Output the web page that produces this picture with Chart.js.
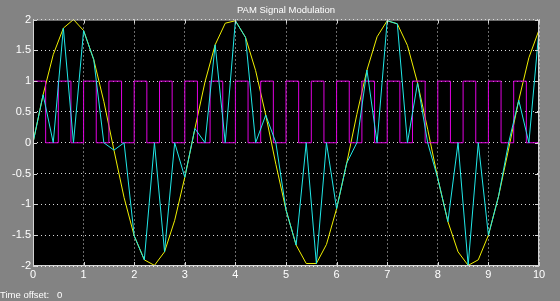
<!DOCTYPE html>
<html>
<head>
<meta charset="utf-8">
<script src="https://cdn.jsdelivr.net/npm/chart.js@4.4.1/dist/chart.umd.min.js"></script>
<style>
  html, body { margin: 0; padding: 0; background: #838383; }
  #wrap { position: relative; width: 560px; height: 301px; }
</style>
</head>
<body>
<div id="wrap"><canvas id="scopeChart"></canvas></div>
<script>
// solver samples (s) and the three scope channels
const sampleTimes = [0, 0.2, 0.4, 0.6, 0.8, 1, 1.2, 1.4, 1.6, 1.8, 2, 2.2, 2.4, 2.6, 2.8, 3, 3.2, 3.4, 3.6, 3.8,
  4, 4.2, 4.4, 4.6, 4.8, 5, 5.2, 5.4, 5.6, 5.8, 6, 6.2, 6.4, 6.6, 6.8, 7, 7.2, 7.4, 7.6, 7.8,
  8, 8.2, 8.4, 8.6, 8.8, 9, 9.2, 9.4, 9.6, 9.8, 10];
const sineValues = [0, 0.78, 1.43, 1.86, 2.00, 1.82, 1.35, 0.67, -0.12, -0.89, -1.51, -1.90, -1.99, -1.77, -1.26, -0.56, 0.23, 0.99, 1.59, 1.94,
  1.98, 1.71, 1.17, 0.45, -0.35, -1.09, -1.66, -1.96, -1.96, -1.65, -1.07, -0.33, 0.46, 1.18, 1.72, 1.98, 1.93, 1.58, 0.97, 0.22,
  -0.58, -1.28, -1.77, -1.99, -1.90, -1.50, -0.87, -0.10, 0.69, 1.38, 1.83];
const pamValues = [0, 0.78, 0, 1.86, 0, 1.82, 1.35, 0, -0.12, 0, -1.51, -1.90, 0, -1.77, 0, -0.56, 0.23, 0, 1.59, 0,
  1.98, 1.71, 0, 0.45, 0, -1.09, -1.66, 0, -1.96, 0, -1.07, -0.33, 0, 1.18, 0, 1.98, 1.93, 0, 0.97, 0,
  -0.58, -1.28, 0, -1.99, 0, -1.50, -0.87, 0, 0.69, 0, 1.83];

// pulse train edges
const pulseTimes = [0, 0.25, 0.5, 0.75, 1, 1.25, 1.5, 1.75, 2, 2.25, 2.5, 2.75, 3, 3.25, 3.5, 3.75, 4, 4.25, 4.5, 4.75,
  5, 5.25, 5.5, 5.75, 6, 6.25, 6.5, 6.75, 7, 7.25, 7.5, 7.75, 8, 8.25, 8.5, 8.75, 9, 9.25, 9.5, 9.75, 10];
const pulseLevels = [1, 0, 1, 0, 1, 0, 1, 0, 1, 0, 1, 0, 1, 0, 1, 0, 1, 0, 1, 0,
  1, 0, 1, 0, 1, 0, 1, 0, 1, 0, 1, 0, 1, 0, 1, 0, 1, 0, 1, 0, 1];

const xTicks = [0, 1, 2, 3, 4, 5, 6, 7, 8, 9, 10];
const xTickLabels = ['0', '1', '2', '3', '4', '5', '6', '7', '8', '9', '10'];
const yTicks = [2, 1.5, 1, 0.5, 0, -0.5, -1, -1.5, -2];
const yTickLabels = ['2', '1.5', '1', '0.5', '0', '-0.5', '-1', '-1.5', '-2'];

const toPoints = (xs, ys) => xs.map((x, i) => ({ x: x, y: ys[i] }));

// black axes box, frame and the little inner tick marks of the scope
const scopeFrame = {
  id: 'scopeFrame',
  beforeDraw(chart) {
    const { ctx, chartArea: a } = chart;
    ctx.save();
    ctx.fillStyle = '#000';
    ctx.fillRect(a.left, a.top, a.right - a.left, a.bottom - a.top);
    ctx.restore();
  },
  afterDatasetsDraw(chart) {
    const { ctx, chartArea: a, scales } = chart;
    ctx.save();
    ctx.strokeStyle = '#d4d4d4';
    ctx.lineWidth = 1;
    ctx.strokeRect(a.left + 0.5, a.top + 0.5, a.right - a.left - 1, a.bottom - a.top - 1);
    ctx.beginPath();
    scales.x.ticks.forEach(t => {
      const px = Math.round(scales.x.getPixelForValue(t.value)) + 0.5;
      ctx.moveTo(px, a.bottom); ctx.lineTo(px, a.bottom - 4);
      ctx.moveTo(px, a.top); ctx.lineTo(px, a.top + 4);
    });
    scales.y.ticks.forEach(t => {
      const py = Math.round(scales.y.getPixelForValue(t.value)) + 0.5;
      ctx.moveTo(a.left, py); ctx.lineTo(a.left + 4, py);
      ctx.moveTo(a.right, py); ctx.lineTo(a.right - 4, py);
    });
    ctx.stroke();
    ctx.restore();
  }
};

const ctx = document.getElementById('scopeChart');
new Chart(ctx, {
  type: 'line',
  data: {
    datasets: [
      {
        label: 'Sine',
        data: toPoints(sampleTimes, sineValues),
        borderColor: '#f0f000',
        borderWidth: 1,
        order: 2
      },
      {
        label: 'Pulse',
        data: toPoints(pulseTimes, pulseLevels),
        borderColor: '#e000e0',
        borderWidth: 1,
        stepped: true,
        order: 1
      },
      {
        label: 'PAM',
        data: toPoints(sampleTimes, pamValues),
        borderColor: '#20e8e8',
        borderWidth: 1,
        order: 0
      }
    ]
  },
  options: {
    responsive: true,
    maintainAspectRatio: false,
    animation: false,
    devicePixelRatio: 1,
    layout: { padding: { left: 0, right: 21, top: 0, bottom: 0 } },
    elements: {
      point: { radius: 0, hoverRadius: 0 },
      line: { tension: 0, fill: false }
    },
    plugins: {
      legend: { display: false },
      tooltip: { enabled: false },
      title: {
        display: true,
        text: 'PAM Signal Modulation',
        color: '#ffffff',
        fullSize: false,
        font: { family: 'Liberation Sans', size: 9.5, weight: 'normal' },
        padding: { top: 4.5, bottom: 3.6 }
      },
      subtitle: {
        display: true,
        text: 'Time offset:   0',
        position: 'bottom',
        align: 'start',
        color: '#ffffff',
        font: { family: 'Liberation Sans', size: 9.5, weight: 'normal' },
        padding: { top: 0, bottom: 0 }
      }
    },
    scales: {
      x: {
        type: 'linear',
        min: 0,
        max: 10,
        afterBuildTicks: scale => { scale.ticks = xTicks.map(v => ({ value: v })); },
        afterFit: scale => { scale.height = 23.6; },
        grid: { color: 'rgba(255,255,255,0.85)', drawTicks: false, lineWidth: 1 },
        border: { display: false, dash: [1, 3] },
        ticks: {
          color: '#ffffff',
          autoSkip: false,
          maxRotation: 0,
          padding: 2,
          font: { family: 'Liberation Sans', size: 11 },
          callback: (value, index) => xTickLabels[index]
        }
      },
      y: {
        type: 'linear',
        min: -2,
        max: 2,
        afterBuildTicks: scale => { scale.ticks = yTicks.map(v => ({ value: v })); },
        afterFit: scale => { scale.width = 33; },
        grid: { color: 'rgba(255,255,255,0.85)', drawTicks: false, lineWidth: 1 },
        border: { display: false, dash: [1, 3] },
        ticks: {
          color: '#ffffff',
          autoSkip: false,
          padding: 2,
          font: { family: 'Liberation Sans', size: 11 },
          callback: (value, index) => yTickLabels[index]
        }
      }
    }
  },
  plugins: [scopeFrame]
});
</script>
</body>
</html>
